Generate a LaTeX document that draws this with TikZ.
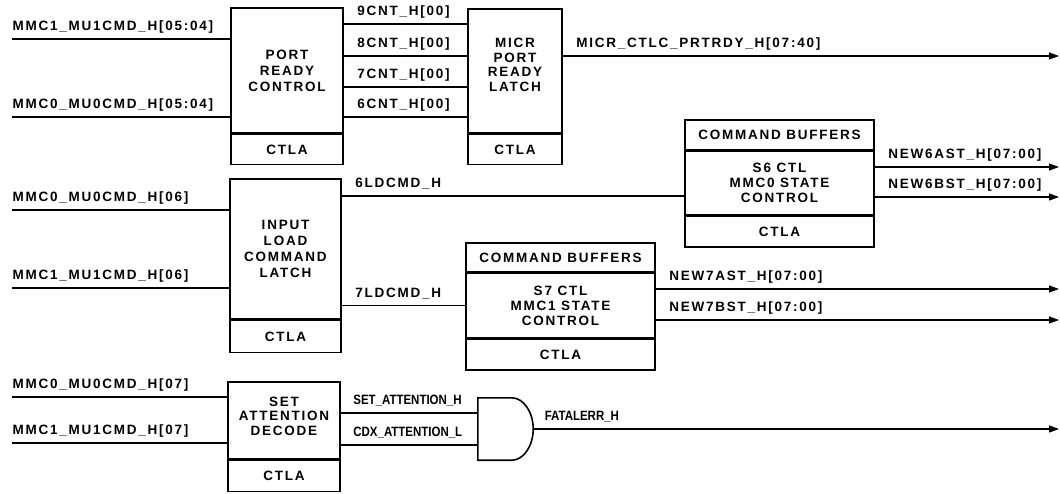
\documentclass[tikz,border=0pt]{standalone}
\usepackage{fontspec}
\newfontfamily\schfont[LetterSpace=13]{Liberation Sans}
\newfontfamily\narfont[FakeStretch=0.85]{Liberation Sans}
\usetikzlibrary{arrows.meta}
\tikzset{
    blk/.style={draw, line width=1.6pt, inner sep=0pt, align=center,
        font=\schfont\bfseries\fontsize{13.5}{16}\selectfont},
    wire/.style={line width=1.2pt},
    sig/.style={wire, -{Triangle[length=10pt,width=7pt]}},
    lbl/.style={anchor=base west, inner sep=0pt, yshift=8.5pt,
        font=\schfont\bfseries\fontsize{13.5}{16}\selectfont},
    olbl/.style={lbl, xshift=13pt},
    nlbl/.style={lbl, font=\narfont\bfseries\fontsize{13.5}{16}\selectfont}
}
\begin{document}
\begin{tikzpicture}[x=1pt, y=-1pt]
    \useasboundingbox (0,0) rectangle (1060,493);

    % Port ready control
    \node[blk, minimum width=112pt, minimum height=125pt] (prc) at (287,70.5) {PORT\\READY\\CONTROL};
    \node[blk, minimum width=112pt, minimum height=30pt, anchor=north] (prcx) at (prc.south) {CTLA};

    % MICR port ready latch
    \node[blk, minimum width=94pt, minimum height=124pt] (micr) at (515,71) {MICR\\[-1.5pt]PORT\\[-1.5pt]READY\\[-1.5pt]LATCH\\[-4pt]};
    \node[blk, minimum width=94pt, minimum height=30pt, anchor=north] (micrx) at (micr.south) {CTLA};

    % Command buffers S6
    \node[blk, minimum width=189pt, minimum height=30pt] (cb6t) at (779.5,135) {COMMAND BUFFERS};
    \node[blk, minimum width=189pt, minimum height=63pt, anchor=north] (cb6) at (cb6t.south) {S6 CTL\\[-1pt]MMC0 STATE\\[-1pt]CONTROL};
    \node[blk, minimum width=189pt, minimum height=31pt, anchor=north] (cb6x) at (cb6.south) {CTLA};

    % Input load command latch
    \node[blk, minimum width=111pt, minimum height=140pt] (ilcl) at (285.5,249) {INPUT\\LOAD\\COMMAND\\LATCH};
    \node[blk, minimum width=111pt, minimum height=32pt, anchor=north] (ilclx) at (ilcl.south) {CTLA};

    % Command buffers S7
    \node[blk, minimum width=189pt, minimum height=29pt] (cb7t) at (560.5,257.5) {COMMAND BUFFERS};
    \node[blk, minimum width=189pt, minimum height=64pt, anchor=north] (cb7) at (cb7t.south) {S7 CTL\\[-1pt]MMC1 STATE\\[-1pt]CONTROL};
    \node[blk, minimum width=189pt, minimum height=31pt, anchor=north] (cb7x) at (cb7.south) {CTLA};

    % Set attention decode
    \node[blk, minimum width=112pt, minimum height=77pt] (sad) at (284,420.5) {SET\\[-2pt]ATTENTION\\[-1pt]DECODE\\[-8pt]};
    \node[blk, minimum width=112pt, minimum height=31pt, anchor=north] (sadx) at (sad.south) {CTLA};

    % AND gate
    \node[minimum width=55pt, minimum height=62pt, inner sep=0pt] (andg) at (505.5,429) {};
    \draw[line width=1.6pt] (andg.south west) -- (andg.north west) -- ([xshift=34pt]andg.north west)
        .. controls ([xshift=45.6pt]andg.north west) and ([yshift=17.1pt]andg.east) .. (andg.east)
        .. controls ([yshift=-17.1pt]andg.east) and ([xshift=45.6pt]andg.south west) .. ([xshift=34pt]andg.south west) -- cycle;

    % Inputs
    \coordinate (a1) at (12,39);
    \coordinate (a0) at (12,117);
    \coordinate (b0) at (12,210);
    \coordinate (b1) at (12,288);
    \coordinate (c0) at (12,397);
    \coordinate (c1) at (12,443);
    \draw[wire] (a1) node[lbl] {MMC1\_MU1CMD\_H[05:04]} -- (a1 -| prc.west);
    \draw[wire] (a0) node[lbl] {MMC0\_MU0CMD\_H[05:04]} -- (a0 -| prc.west);
    \draw[wire] (b0) node[lbl] {MMC0\_MU0CMD\_H[06]} -- (b0 -| ilcl.west);
    \draw[wire] (b1) node[lbl] {MMC1\_MU1CMD\_H[06]} -- (b1 -| ilcl.west);
    \draw[wire] (c0) node[lbl] {MMC0\_MU0CMD\_H[07]} -- (c0 -| sad.west);
    \draw[wire] (c1) node[lbl] {MMC1\_MU1CMD\_H[07]} -- (c1 -| sad.west);

    % Counters into the latch
    \coordinate (r9) at (0,24);
    \coordinate (r8) at (0,56);
    \coordinate (r7) at (0,87);
    \coordinate (r6) at (0,117);
    \draw[wire] (prc.east |- r9) node[olbl] {9CNT\_H[00]} -- (micr.west |- r9);
    \draw[wire] (prc.east |- r8) node[olbl] {8CNT\_H[00]} -- (micr.west |- r8);
    \draw[wire] (prc.east |- r7) node[olbl] {7CNT\_H[00]} -- (micr.west |- r7);
    \draw[wire] (prc.east |- r6) node[olbl] {6CNT\_H[00]} -- (micr.west |- r6);

    % Load command lines
    \coordinate (r6l) at (0,196);
    \draw[wire] (ilcl.east |- r6l) node[olbl] {6LDCMD\_H} -- (cb6.west |- r6l);
    \draw[wire] (ilcl.east |- cb7.west) node[olbl] {7LDCMD\_H} -- (cb7.west);

    % Attention lines
    \coordinate (rs) at (0,413);
    \coordinate (rc) at (0,445);
    \draw[wire] (sad.east |- rs) node[nlbl, xshift=12pt] {SET\_ATTENTION\_H} -- (andg.west |- rs);
    \draw[wire] (sad.east |- rc) node[nlbl, xshift=12pt] {CDX\_ATTENTION\_L} -- (andg.west |- rc);

    % Outputs
    \coordinate (o1) at (1059,56);
    \coordinate (o2) at (1059,167);
    \coordinate (o3) at (1059,197);
    \coordinate (o4) at (1059,289);
    \coordinate (o5) at (1059,320);
    \coordinate (o6) at (1059,429);
    \draw[sig] (micr.east |- o1) node[olbl] {MICR\_CTLC\_PRTRDY\_H[07:40]} -- (o1);
    \draw[sig] (cb6.east |- o2) node[olbl] {NEW6AST\_H[07:00]} -- (o2);
    \draw[sig] (cb6.east |- o3) node[olbl] {NEW6BST\_H[07:00]} -- (o3);
    \draw[sig] (cb7.east |- o4) node[olbl] {NEW7AST\_H[07:00]} -- (o4);
    \draw[sig] (cb7.east |- o5) node[olbl] {NEW7BST\_H[07:00]} -- (o5);
    \draw[sig] (andg.east) node[nlbl, xshift=11pt] {FATALERR\_H} -- (o6);
\end{tikzpicture}
\end{document}
